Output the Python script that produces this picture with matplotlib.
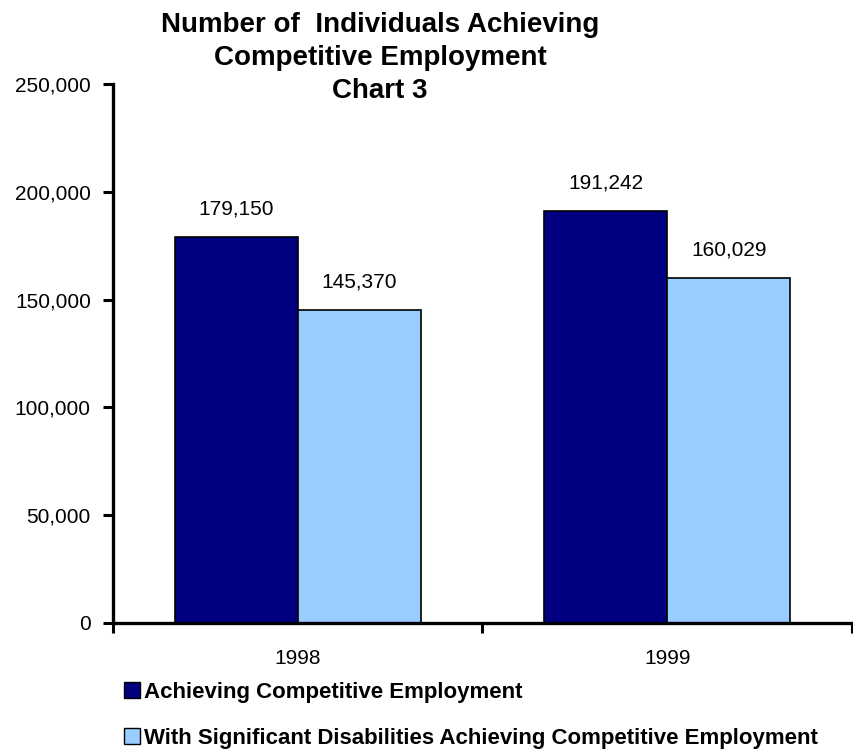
import matplotlib.pyplot as plt
from matplotlib.patches import Patch

years = ["1998", "1999"]
achieving = [179150, 191242]
significant = [145370, 160029]
series_names = ["Achieving Competitive Employment",
                "With Significant Disabilities Achieving Competitive Employment"]

plt.rcParams['font.family'] = ['Liberation Sans', 'DejaVu Sans']

dark = "#000080"
light = "#99CCFF"

fig = plt.figure(figsize=(8.54, 7.52), dpi=100)
ax = fig.add_axes([113 / 854, 1 - 623 / 752, 739 / 854, 539 / 752])

x = list(range(len(years)))
w = 1 / 3
b1 = ax.bar([i - w / 2 for i in x], achieving, w, color=dark, edgecolor="black", linewidth=1.2)
b2 = ax.bar([i + w / 2 for i in x], significant, w, color=light, edgecolor="black", linewidth=1.2)

for bars, vals in ((b1, achieving), (b2, significant)):
    for bar, v in zip(bars, vals):
        ax.text(bar.get_x() + bar.get_width() / 2, v + 8500, f"{v:,}",
                ha="center", va="bottom", fontsize=15)

ax.set_xlim(-0.5, 1.5)
ax.set_ylim(0, 250000)
ax.set_yticks(range(0, 250001, 50000))
ax.set_yticklabels([f"{v:,}" for v in range(0, 250001, 50000)], fontsize=15)
ax.set_xticks(x)
ax.set_xticklabels(years, fontsize=15)
ax.set_xticks([-0.5, 0.5, 1.5], minor=True)
ax.tick_params(axis="x", which="major", length=0, pad=19)
ax.tick_params(axis="x", which="minor", length=7, width=2.2, direction="out")
ax.tick_params(axis="y", length=7, width=2.2, direction="out", pad=9)

for s in ("top", "right"):
    ax.spines[s].set_visible(False)
for s in ("left", "bottom"):
    ax.spines[s].set_linewidth(2.4)

fig.text(380 / 854, 1 - 12 / 752,
         "Number of  Individuals Achieving\nCompetitive Employment\nChart 3",
         ha="center", va="top", fontsize=20, fontweight="bold",
         linespacing=1.36)

handles = [Patch(facecolor=dark, edgecolor="black"),
           Patch(facecolor=light, edgecolor="black")]
fig.legend(handles, series_names, loc="upper left",
           bbox_to_anchor=(124 / 854, 1 - 682 / 752), frameon=False,
           handlelength=0.7, handleheight=0.7, handletextpad=0.2,
           labelspacing=1.12, borderaxespad=0, borderpad=0,
           prop={"size": 16, "weight": "bold"})

fig.savefig("out.png", dpi=100)
